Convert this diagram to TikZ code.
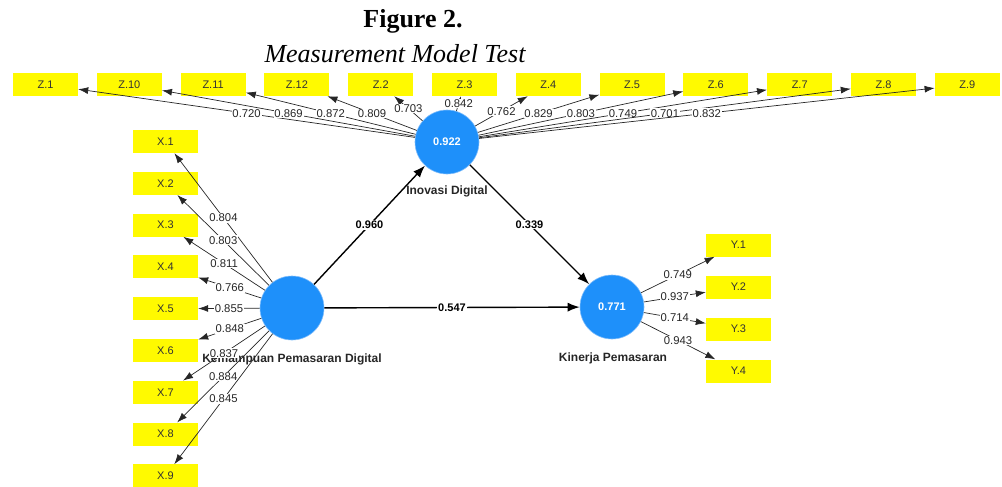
\documentclass[tikz,border=0pt]{standalone}
\usepackage{fontspec}
\setmainfont{Liberation Sans}
\newfontfamily\titlefont{Liberation Serif}
\usetikzlibrary{arrows.meta}
\definecolor{indyellow}{RGB}{255,250,0}
\definecolor{latblue}{RGB}{30,144,250}
\definecolor{latrim}{RGB}{130,190,250}
\begin{document}
\begin{tikzpicture}[x=1pt,y=-1pt,
  ind/.style={fill=indyellow, minimum width=65pt, minimum height=23pt, inner sep=0pt,
    text=black!80, font=\fontsize{11}{11}\selectfont},
  lat/.style={circle, fill=latblue, draw=latrim, line width=0.6pt, minimum size=64pt,
    inner sep=0pt, text=white, font=\bfseries\fontsize{11}{11}\selectfont},
  latname/.style={font=\bfseries\fontsize{12}{12}\selectfont, text=black!85},
  load/.style={-{Latex[length=10pt,width=7pt]}, draw=black!85, line width=0.7pt},
  struct/.style={-{Latex[length=12pt,width=9pt]}, line width=1.4pt},
  lbl/.style={fill=white, inner sep=0.8pt, text=black!85, font=\fontsize{11.3}{11.3}\selectfont},
  slbl/.style={fill=white, inner sep=1pt, font=\bfseries\fontsize{11}{11}\selectfont}]
\useasboundingbox (0,0) rectangle (1002,487);

% title
\node[anchor=base, font=\titlefont\bfseries\fontsize{26}{26}\selectfont] (title) at (413,28) {Figure 2.};
\node[anchor=base, font=\titlefont\itshape\fontsize{26}{26}\selectfont] (subtitle) at (395,63) {Measurement Model Test};

% indicator boxes
\foreach \t [count=\i] in {Z.1,Z.10,Z.11,Z.12,Z.2,Z.3,Z.4,Z.5,Z.6,Z.7,Z.8,Z.9}
  \node[ind] (z\i) at ({45.5+83.8*(\i-1)},84.5) {\t};
\foreach \i in {1,...,9}
  \node[ind] (x\i) at (165.5,{141.5+41.8*(\i-1)}) {X.\i};
\foreach \i in {1,...,4}
  \node[ind] (y\i) at (738.5,{245+42*(\i-1)}) {Y.\i};

% latent variables
\node[lat] (inov) at (447,142) {0.922};
\node[lat] (kemp) at (292,308) {};
\node[lat] (kin) at (612,307) {0.771};
\node[latname] (inovname) at (447,191) {Inovasi Digital};
\node[latname] (kempname) at (292,359) {Kemampuan Pemasaran Digital};
\node[latname] (kinname) at (613,358) {Kinerja Pemasaran};

% structural paths
\draw[struct] (kemp) -- node[slbl] {0.960} (inov);
\draw[struct] (kemp) -- node[slbl] {0.547} (kin);
\draw[struct] (inov) -- node[slbl] {0.339} (kin);

% outer loadings
\foreach \l [count=\i] in {0.720,0.869,0.872,0.809,0.703,0.842,0.762,0.829,0.803,0.749,0.701,0.832}
  \draw[load] (inov) -- node[lbl] {\l} (z\i);
\foreach \l [count=\i] in {0.804,0.803,0.811,0.766,0.855,0.848,0.837,0.884,0.845}
  \draw[load] (kemp) -- node[lbl] {\l} (x\i);
\foreach \l [count=\i] in {0.749,0.937,0.714,0.943}
  \draw[load] (kin) -- node[lbl] {\l} (y\i);
\end{tikzpicture}
\end{document}
